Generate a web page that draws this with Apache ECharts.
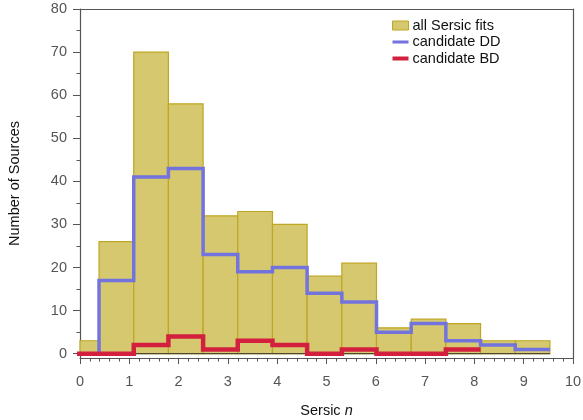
<!DOCTYPE html>
<html>
<head>
<meta charset="utf-8">
<script src="https://cdn.jsdelivr.net/npm/echarts@6/dist/echarts.min.js"></script>
<style>
  html, body { margin: 0; padding: 0; background: #fff; }
  #chart { width: 583px; height: 420px; }
</style>
</head>
<body>
<div id="chart"></div>
<script>
// Histogram bin edges (Sersic index n)
var binEdges = [-0.317, 0.386, 1.090, 1.793, 2.497, 3.200, 3.904, 4.607, 5.311, 6.014, 6.718, 7.421, 8.125, 8.828, 9.532];
// Counts per bin
var allSersic = [3, 26, 70, 58, 32, 33, 30, 18, 21, 6, 8, 7, 3, 3];
var candidateDD = [0, 17, 41, 43, 23, 19, 20, 14, 12, 5, 7, 3, 2, 1];
var candidateBD = [0, 0, 2, 4, 1, 3, 2, 0, 1, 0, 0, 1];
// Axis ticks
var yMajorTicks = [0, 10, 20, 30, 40, 50, 60, 70, 80];
var yMinorTicks = [5, 15, 25, 35, 45, 55, 65, 75];

var FONT = 'Liberation Sans';
var AXIS_COLOR = '#555';
var BAR_FILL = '#D5C86F';
var BAR_EDGE = '#BFA623';
var DD_COLOR = '#7373DD';
var BD_COLOR = '#D4203F';

// Step outline points: one horizontal run per bin
function stepPoints(counts) {
  var pts = [];
  for (var i = 0; i < counts.length; i++) pts.push([binEdges[i], counts[i]]);
  pts.push([binEdges[counts.length], counts[counts.length - 1]]);
  return pts;
}

var barData = allSersic.map(function (v, i) { return [binEdges[i], binEdges[i + 1], v]; });

var chart = echarts.init(document.getElementById('chart'), null, { renderer: 'canvas' });

chart.setOption({
  animation: false,
  backgroundColor: '#fff',
  textStyle: { fontFamily: FONT },
  grid: { left: 80, right: 10, top: 9, bottom: 62, show: false, containLabel: false, outerBoundsMode: 'none' },
  legend: {
    orient: 'vertical',
    left: 387,
    top: 13,
    itemGap: 1.5,
    itemWidth: 16,
    itemHeight: 9,
    selectedMode: false,
    textStyle: { fontFamily: FONT, fontSize: 14.5, color: '#111', padding: [0, 0, 0, -1] },
    data: [
      { name: 'all Sersic fits', icon: 'rect', itemStyle: { color: BAR_FILL, borderColor: BAR_EDGE, borderWidth: 1 } },
      { name: 'candidate DD', icon: 'path://M0,3L16,3L16,6L0,6Z', itemStyle: { color: DD_COLOR, borderWidth: 0 } },
      { name: 'candidate BD', icon: 'path://M0,2.5L16,2.5L16,6.5L0,6.5Z', itemStyle: { color: BD_COLOR, borderWidth: 0 } }
    ]
  },
  xAxis: [{
    type: 'value',
    min: 0, max: 10, interval: 1,
    name: 'Sersic {i|n}',
    nameLocation: 'middle',
    nameGap: 45,
    nameTextStyle: {
      fontFamily: FONT, fontSize: 14.5, color: '#111',
      rich: { i: { fontFamily: FONT, fontSize: 14.5, fontStyle: 'italic', color: '#111' } }
    },
    axisLine: { show: true, onZero: false, lineStyle: { color: AXIS_COLOR, width: 1.2 } },
    axisTick: { show: true, inside: false, length: 6, lineStyle: { color: AXIS_COLOR } },
    minorTick: { show: true, splitNumber: 5, length: 3.5, lineStyle: { color: AXIS_COLOR } },
    axisLabel: { fontFamily: FONT, fontSize: 14.5, color: '#555', margin: 16 },
    splitLine: { show: false }
  }, {
    // upper frame edge
    type: 'value', position: 'top', min: 0, max: 10,
    axisLine: { show: true, onZero: false, lineStyle: { color: AXIS_COLOR, width: 1.2 } },
    axisTick: { show: false }, axisLabel: { show: false }, splitLine: { show: false }
  }],
  yAxis: [{
    type: 'value',
    min: -1, max: 80,
    name: 'Number of Sources',
    nameLocation: 'middle',
    nameGap: 58,
    nameTextStyle: { fontFamily: FONT, fontSize: 14.5, color: '#111' },
    axisLine: { show: true, onZero: false, lineStyle: { color: AXIS_COLOR, width: 1.2 } },
    axisTick: { show: true, inside: false, length: 7, customValues: yMajorTicks, lineStyle: { color: AXIS_COLOR } },
    axisLabel: { fontFamily: FONT, fontSize: 14.5, color: '#555', margin: 13, customValues: yMajorTicks },
    splitLine: { show: false }
  }, {
    // minor ticks on the left edge
    type: 'value', position: 'left', min: -1, max: 80,
    axisLine: { show: false, onZero: false },
    axisTick: { show: true, inside: false, length: 3.5, customValues: yMinorTicks, lineStyle: { color: AXIS_COLOR } },
    axisLabel: { show: false },
    splitLine: { show: false }
  }, {
    // right frame edge
    type: 'value', position: 'right', min: -1, max: 80,
    axisLine: { show: true, onZero: false, lineStyle: { color: AXIS_COLOR, width: 1.2 } },
    axisTick: { show: false }, axisLabel: { show: false }, splitLine: { show: false }
  }],
  series: [{
    name: 'all Sersic fits',
    type: 'custom',
    xAxisIndex: 0, yAxisIndex: 0,
    z: 2,
    data: barData,
    itemStyle: { color: BAR_FILL, borderColor: BAR_EDGE },
    renderItem: function (params, api) {
      var x0 = Math.max(api.value(0), 0);
      var p0 = api.coord([x0, api.value(2)]);
      var p1 = api.coord([api.value(1), 0]);
      return {
        type: 'rect',
        shape: { x: p0[0], y: p0[1], width: p1[0] - p0[0], height: p1[1] - p0[1] },
        style: { fill: BAR_FILL, stroke: BAR_EDGE, lineWidth: 1.2 }
      };
    }
  }, {
    name: 'baseline',
    type: 'line',
    xAxisIndex: 0, yAxisIndex: 0,
    z: 3,
    silent: true,
    symbol: 'none',
    data: [[0, 0], [binEdges[binEdges.length - 1], 0]],
    lineStyle: { color: '#333', width: 1 }
  }, {
    name: 'candidate DD',
    type: 'line',
    xAxisIndex: 0, yAxisIndex: 0,
    z: 4,
    step: 'end',
    symbol: 'none',
    clip: true,
    data: stepPoints(candidateDD),
    itemStyle: { color: DD_COLOR },
    lineStyle: { color: DD_COLOR, width: 3.5, join: 'miter', cap: 'butt' }
  }, {
    name: 'candidate BD',
    type: 'line',
    xAxisIndex: 0, yAxisIndex: 0,
    z: 5,
    step: 'end',
    symbol: 'none',
    clip: true,
    data: stepPoints(candidateBD),
    itemStyle: { color: BD_COLOR },
    lineStyle: { color: BD_COLOR, width: 4.5, join: 'miter', cap: 'butt' }
  }]
});
</script>
</body>
</html>
